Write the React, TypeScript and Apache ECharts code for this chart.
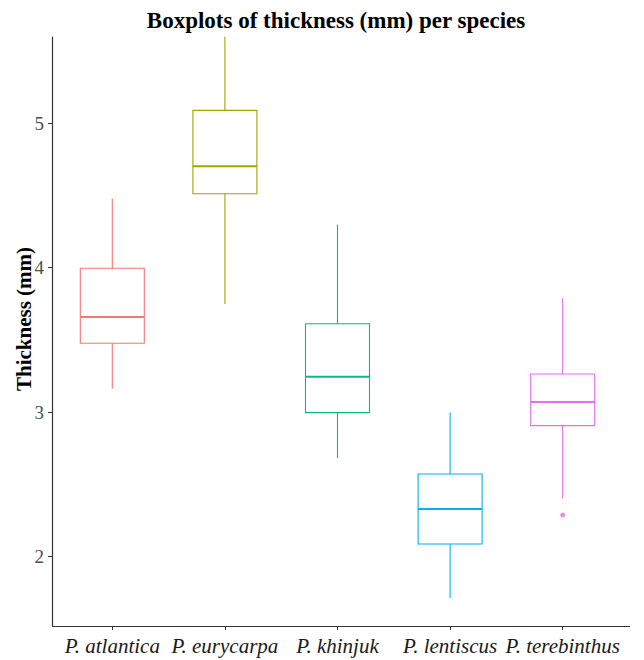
import React, { useEffect, useRef } from "react";
import * as echarts from "echarts";

const species = ["P. atlantica", "P. eurycarpa", "P. khinjuk", "P. lentiscus", "P. terebinthus"];
const colors = ["#F8766D", "#A3A500", "#00BF7D", "#00B0F6", "#E76BF3"];
// [lower whisker, Q1, median, Q3, upper whisker]
const atlantica = [3.163, 3.477, 3.659, 3.996, 4.477];
const eurycarpa = [3.749, 4.512, 4.702, 5.089, 5.599];
const khinjuk = [2.683, 2.997, 3.246, 3.612, 4.298];
const lentiscus = [1.714, 2.088, 2.33, 2.572, 2.997];
const terebinthus = [2.401, 2.907, 3.071, 3.264, 3.788];
const outliers: [string, number][] = [["P. terebinthus", 2.289]];
const yTicks = [2, 3, 4, 5];

const serif = "'Liberation Serif', 'Times New Roman', serif";

export default function App() {
  const ref = useRef<HTMLDivElement>(null);
  useEffect(() => {
    if (!ref.current) return;
    const chart = echarts.init(ref.current, undefined, { renderer: "svg" });
    const boxes = [atlantica, eurycarpa, khinjuk, lentiscus, terebinthus];
    const BOX_W = 64;
    chart.setOption({
      animation: false,
      backgroundColor: "#ffffff",
      grid: { left: 56, width: 563, top: 37, height: 589, outerBoundsMode: "none", containLabel: false },
      graphic: [
        {
          type: "text",
          x: 336,
          y: 20,
          style: {
            text: "Boxplots of thickness (mm) per species",
            font: `bold 23px ${serif}`,
            fill: "#000",
            textAlign: "center",
            textVerticalAlign: "middle",
          },
        },
        {
          type: "text",
          x: 24,
          y: 319,
          rotation: Math.PI / 2,
          style: {
            text: "Thickness (mm)",
            font: `bold 21px ${serif}`,
            fill: "#000",
            textAlign: "center",
            textVerticalAlign: "middle",
          },
        },
        {
          type: "line",
          shape: { x1: 52, y1: 626.5, x2: 630, y2: 626.5 },
          style: { stroke: "#333", lineWidth: 1.2 },
        },
      ],
      xAxis: {
        type: "category",
        data: species,
        boundaryGap: true,
        axisLine: { show: false },
        axisTick: { show: true, alignWithLabel: true, length: 4, lineStyle: { color: "#333" } },
        axisLabel: {
          fontFamily: serif,
          fontStyle: "italic",
          fontSize: 21,
          color: "#1a1a1a",
          margin: 9,
          interval: 0,
        },
        splitLine: { show: false },
      },
      yAxis: {
        type: "value",
        min: 1.52,
        max: 5.597,
        offset: 4,
        axisLine: { show: true, lineStyle: { color: "#333", width: 1.2 } },
        axisTick: { show: true, length: 4, lineStyle: { color: "#333" }, customValues: yTicks },
        axisLabel: {
          fontFamily: serif,
          fontSize: 19,
          color: "#4d4d4d",
          margin: 8,
          customValues: yTicks,
        },
        splitLine: { show: false },
      },
      series: [
        {
          type: "custom",
          encode: { x: 0, y: [1, 2, 3, 4, 5] },
          data: boxes.map((b, i) => [i, ...b]),
          renderItem: (params: any, api: any) => {
            const idx = api.value(0);
            const c = colors[params.dataIndex];
            const pMin = api.coord([idx, api.value(1)]);
            const pQ1 = api.coord([idx, api.value(2)]);
            const pMed = api.coord([idx, api.value(3)]);
            const pQ3 = api.coord([idx, api.value(4)]);
            const pMax = api.coord([idx, api.value(5)]);
            const cx = pMed[0];
            const h = BOX_W / 2;
            return {
              type: "group",
              children: [
                {
                  type: "line",
                  shape: { x1: cx, y1: pQ3[1], x2: cx, y2: pMax[1] },
                  style: { stroke: c, lineWidth: 1.1 },
                },
                {
                  type: "line",
                  shape: { x1: cx, y1: pQ1[1], x2: cx, y2: pMin[1] },
                  style: { stroke: c, lineWidth: 1.1 },
                },
                {
                  type: "rect",
                  shape: { x: cx - h, y: pQ3[1], width: BOX_W, height: pQ1[1] - pQ3[1] },
                  style: { fill: "none", stroke: c, lineWidth: 1.1 },
                },
                {
                  type: "line",
                  shape: { x1: cx - h, y1: pMed[1], x2: cx + h, y2: pMed[1] },
                  style: { stroke: c, lineWidth: 2 },
                },
              ],
            };
          },
        },
        {
          type: "scatter",
          symbol: "circle",
          symbolSize: 5,
          itemStyle: { color: colors[4] },
          data: outliers,
        },
      ],
    });
    return () => chart.dispose();
  }, []);
  return (
    <div
      ref={ref}
      style={{ position: "fixed", left: 0, top: 0, width: 644, height: 660, background: "#fff" }}
    />
  );
}
